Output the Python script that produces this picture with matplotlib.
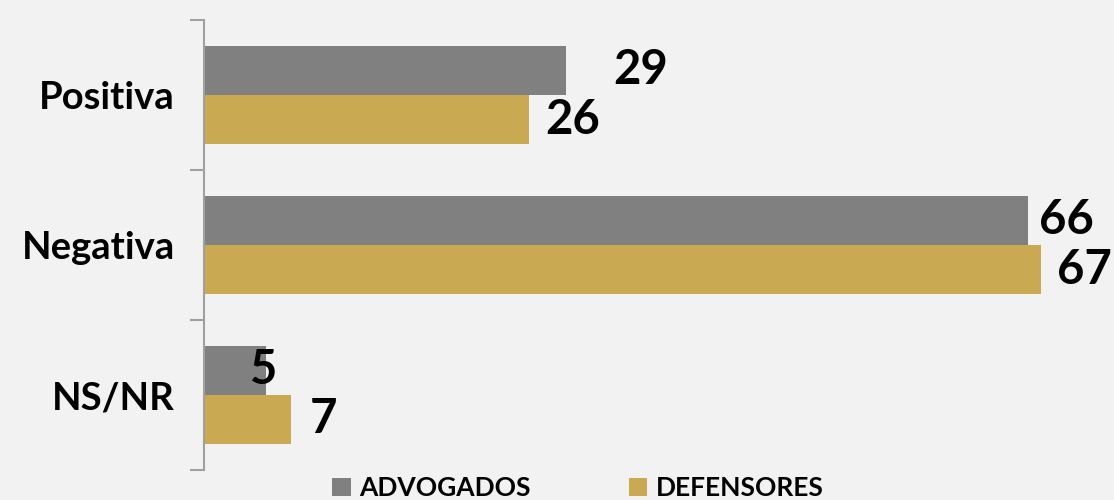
import matplotlib
matplotlib.use("Agg")
import matplotlib.pyplot as plt
import numpy as np

categories = ["Positiva", "Negativa", "NS/NR"]
advogados = [29, 66, 5]
defensores = [26, 67, 7]
series_names = ["ADVOGADOS", "DEFENSORES"]

# label offsets in points (style, not data)
adv_offsets = [(34, 0), (8, 0), (-12, 0)]
def_offsets = [(12, 0), (12, 0), (13, 0)]

plt.rcParams['font.family'] = ['Lato', 'DejaVu Sans']
BG = "#f2f2f2"
GRAY = "#808080"
GOLD = "#c9a951"

W, H = 1114, 500
fig = plt.figure(figsize=(W/100, H/100), dpi=100, facecolor=BG)
ax = fig.add_axes([204/W, 1-470/H, 900/W, 450/H])
ax.set_facecolor(BG)

y = np.arange(len(categories))
bh = 49/150
ax.barh(y - bh/2, advogados, height=bh, color=GRAY, label=series_names[0])
ax.barh(y + bh/2, defensores, height=bh, color=GOLD, label=series_names[1])

ax.set_xlim(0, 900/12.49)
ax.set_ylim(2.5, -0.5)

for i, v in enumerate(advogados):
    ax.annotate(str(v), (v, y[i] - bh/2), xytext=adv_offsets[i], textcoords="offset points",
                ha="left", va="center", fontsize=34, fontweight="bold", color="black")
for i, v in enumerate(defensores):
    ax.annotate(str(v), (v, y[i] + bh/2), xytext=def_offsets[i], textcoords="offset points",
                ha="left", va="center", fontsize=34, fontweight="bold", color="black")

ax.set_yticks(y)
ax.set_yticklabels(categories, fontsize=27.5, fontweight="bold")
ax.tick_params(axis="y", which="major", length=0, pad=21)
ax.set_yticks([-0.5, 0.5, 1.5, 2.5], minor=True)
ax.tick_params(axis="y", which="minor", length=10, width=1.5, color="#a0a0a0")
ax.set_xticks([])
for s in ["top", "right", "bottom"]:
    ax.spines[s].set_visible(False)
ax.spines["left"].set_color("#a0a0a0")
ax.spines["left"].set_linewidth(1.5)

leg = fig.legend(loc="center", bbox_to_anchor=(578/W, 1-488/H), ncol=2, frameon=False,
                 prop={"size": 19, "weight": "bold"}, handlelength=0.7, handleheight=0.7,
                 handletextpad=0.34, columnspacing=3.7, borderpad=0, borderaxespad=0)

fig.savefig("out.png", dpi=100, facecolor=BG)
